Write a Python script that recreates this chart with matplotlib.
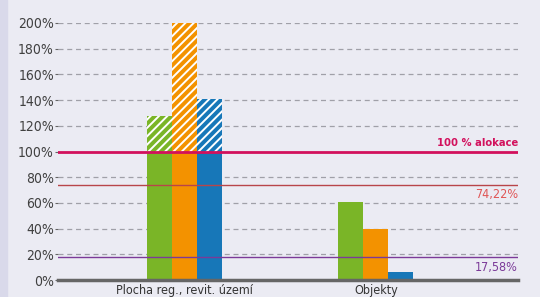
import matplotlib
matplotlib.use('Agg')
import matplotlib.pyplot as plt
import numpy as np
from matplotlib.patches import Rectangle

categories = ['Plocha reg., revit. území', 'Objekty']
green = [128, 61]
orange = [200, 40]
blue = [141, 6]
ticks = [0, 20, 40, 60, 80, 100, 120, 140, 160, 180, 200]
ref_lines = [100, 74.22, 17.58]
ref_labels = ['100 % alokace', '74,22%', '17,58%']

plt.rcParams['font.family'] = ['DejaVu Sans']
plt.rcParams['font.stretch'] = 'condensed'
plt.rcParams['hatch.linewidth'] = 1.4

bg = '#ebebf3'
fig = plt.figure(figsize=[5.4, 2.97], dpi=100, facecolor=bg)
fig.patches.append(Rectangle((0, 0), 7/540, 1, transform=fig.transFigure, color='#d9d9ea', zorder=0))
ax = fig.add_axes([58/540, 17/297, 460/540, 257/297])
ax.set_facecolor(bg)

x = np.arange(len(categories))
w = 0.1307
colors = ['#7ab527', '#f39200', '#1777b8']
for off, vals, c in zip([-w, 0, w], [green, orange, blue], colors):
    solid = [min(v, 100) for v in vals]
    ax.bar(x + off, solid, w, color=c, zorder=3, linewidth=0)
    for xi, v in zip(x, vals):
        if v > 100:
            ax.bar(xi + off, v - 100, w, bottom=100, color=c, hatch='////', edgecolor='white', linewidth=0, zorder=3)

for t in ticks[1:]:
    if t != 100:
        ax.axhline(t, color='#a0a0a8', linestyle=(0, (4, 3)), linewidth=0.9, zorder=1)

ax.axhline(ref_lines[0], color='#d2105c', linewidth=2, zorder=4)
ax.axhline(ref_lines[1], color='#b8454a', linewidth=1, zorder=4)
ax.axhline(ref_lines[2], color='#7b3a98', linewidth=1, zorder=4)
ax.text(1, ref_lines[0] + 3, ref_labels[0], transform=ax.get_yaxis_transform(), ha='right', va='bottom',
        color='#d2105c', fontsize=8, fontweight='bold')
ax.text(1, ref_lines[1] - 3, ref_labels[1], transform=ax.get_yaxis_transform(), ha='right', va='top',
        color='#e05555', fontsize=9)
ax.text(1, ref_lines[2] - 3, ref_labels[2], transform=ax.get_yaxis_transform(), ha='right', va='top',
        color='#7b3a98', fontsize=9)

ax.set_xlim(-0.661, 1.743)
ax.set_ylim(0, 200)
ax.set_yticks(ticks)
ax.set_yticklabels([str(t) + '%' for t in ticks], fontsize=10, color='#404040')
ax.set_xticks(x)
ax.set_xticklabels(categories, fontsize=9, color='#333333')
ax.tick_params(axis='y', length=2, color='#666666', pad=1)
ax.tick_params(axis='x', length=0, pad=3)
for s in ['top', 'right', 'left']:
    ax.spines[s].set_visible(False)
ax.spines['bottom'].set_color('#666666')
ax.spines['bottom'].set_linewidth(2.5)
ax.spines['bottom'].set_zorder(5)

plt.savefig('out.png', dpi=100, facecolor=bg)
